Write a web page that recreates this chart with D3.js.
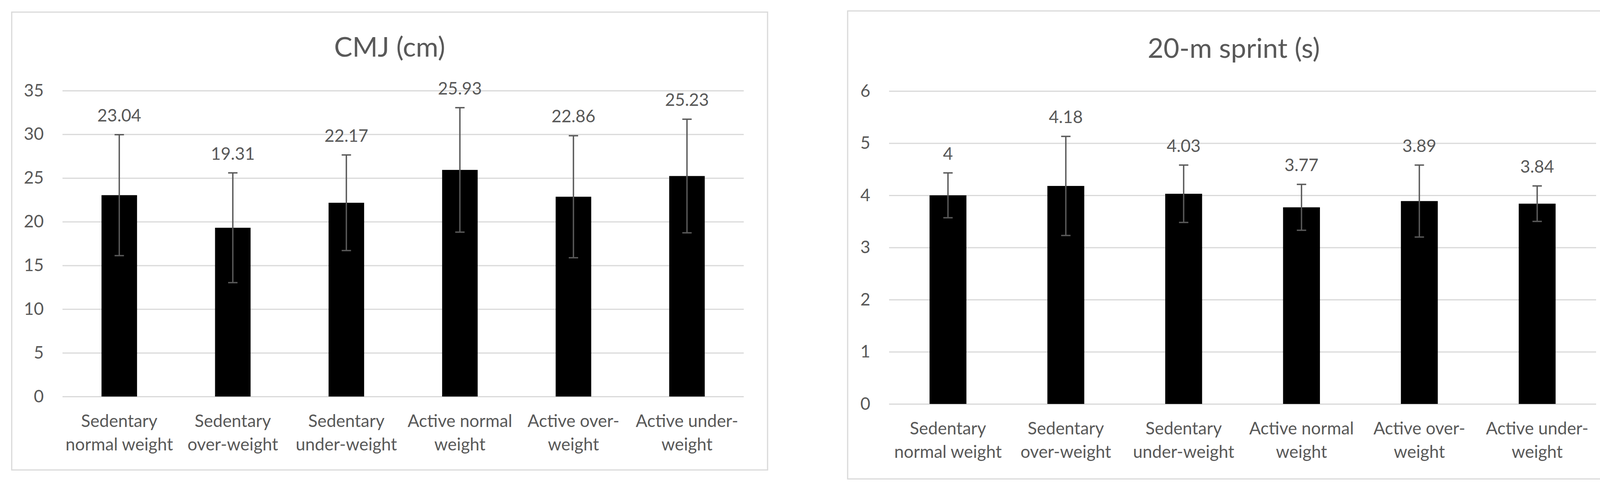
<!DOCTYPE html>
<html>
<head>
<meta charset="utf-8">
<script src="https://cdn.jsdelivr.net/npm/d3@7/dist/d3.min.js"></script>
<style>
body { margin: 0; background: #fff; }
text { font-family: Lato, "Open Sans", sans-serif; fill: #595959; }
</style>
</head>
<body>
<div id="content"></div>
<script>
// categories (x axis) and how Excel wrapped them
var categories = ["Sedentary normal weight", "Sedentary over-weight", "Sedentary under-weight",
                  "Active normal weight", "Active over-weight", "Active under-weight"];
var catLines = [["Sedentary", "normal weight"], ["Sedentary", "over-weight"], ["Sedentary", "under-weight"],
                ["Active normal", "weight"], ["Active over-", "weight"], ["Active under-", "weight"]];

// CMJ (cm)
var cmjMeans = [23.04, 19.31, 22.17, 25.93, 22.86, 25.23];
var cmjSD    = [6.92, 6.28, 5.47, 7.12, 6.98, 6.50];
var cmjTicks = [0, 5, 10, 15, 20, 25, 30, 35];

// 20-m sprint (s)
var sprintMeans = [4, 4.18, 4.03, 3.77, 3.89, 3.84];
var sprintSD    = [0.43, 0.95, 0.55, 0.44, 0.69, 0.34];
var sprintTicks = [0, 1, 2, 3, 4, 5, 6];

var svg = d3.select('#content').append('svg')
            .attr('width', 6357)
            .attr('height', 1262);

svg.append('rect').attr('width', 6357).attr('height', 1262).style('fill', '#fff');

function drawChart(title, means, sds, ticks, frame, plot) {
	var g = svg.append('g');

	//chart border
	g.append('rect')
	 .attr('x', frame.x0).attr('y', frame.y0)
	 .attr('width', frame.x1 - frame.x0).attr('height', frame.y1 - frame.y0)
	 .style('fill', 'none').style('stroke', '#d9d9d9').style('stroke-width', 3);

	g.append('text')
	 .attr('x', (frame.x0 + frame.x1) / 2)
	 .attr('y', frame.titleY)
	 .attr('text-anchor', 'middle')
	 .style('font-size', '70px')
	 .text(title);

	var x = d3.scaleBand().domain(categories).range([plot.x0, plot.x1])
	          .paddingInner(0.687).paddingOuter(0.3435);
	var y = d3.scaleLinear().domain([0, ticks[ticks.length - 1]]).range([plot.y0, plot.y1]);

	//gridlines + y labels
	var yAxis = g.append('g')
	             .attr('transform', 'translate(' + plot.x0 + ',0)')
	             .call(d3.axisLeft(y).tickValues(ticks).tickFormat(d3.format('d'))
	                     .tickSize(-(plot.x1 - plot.x0)).tickPadding(48));
	yAxis.select('.domain').remove();
	yAxis.selectAll('line').attr('stroke', '#d9d9d9').attr('stroke-width', 3);
	yAxis.selectAll('text').style('font-size', '44px');

	//bars
	g.selectAll('rect.bar').data(means).enter().append('rect')
	 .attr('class', 'bar')
	 .attr('x', function(d, i){ return x(categories[i]); })
	 .attr('width', x.bandwidth())
	 .attr('y', function(d){ return y(d); })
	 .attr('height', function(d){ return y(0) - y(d); })
	 .style('fill', '#000');

	//error bars
	var cap = 12;
	var eb = g.selectAll('g.err').data(means).enter().append('g').attr('class', 'err')
	          .style('stroke', '#595959').style('stroke-width', 3.5);
	eb.append('line')
	  .attr('x1', function(d, i){ return x(categories[i]) + x.bandwidth() / 2; })
	  .attr('x2', function(d, i){ return x(categories[i]) + x.bandwidth() / 2; })
	  .attr('y1', function(d, i){ return y(d + sds[i]); })
	  .attr('y2', function(d, i){ return y(d - sds[i]); });
	[1, -1].forEach(function(s){
		eb.append('line')
		  .attr('x1', function(d, i){ return x(categories[i]) + x.bandwidth() / 2 - cap; })
		  .attr('x2', function(d, i){ return x(categories[i]) + x.bandwidth() / 2 + cap; })
		  .attr('y1', function(d, i){ return y(d + s * sds[i]); })
		  .attr('y2', function(d, i){ return y(d + s * sds[i]); });
	});

	//data labels above the error bars
	g.selectAll('text.lbl').data(means).enter().append('text')
	 .attr('class', 'lbl')
	 .attr('x', function(d, i){ return x(categories[i]) + x.bandwidth() / 2; })
	 .attr('y', function(d, i){ return y(d + sds[i]) - 34; })
	 .attr('text-anchor', 'middle')
	 .style('font-size', '44px')
	 .text(function(d){ return d; });

	//category labels
	var xAxis = g.append('g')
	             .attr('transform', 'translate(0,' + plot.y0 + ')')
	             .call(d3.axisBottom(x).tickSize(0));
	xAxis.select('.domain').remove();
	xAxis.selectAll('.tick text').each(function(d){
		var t = d3.select(this).text(null).attr('y', 0).attr('dy', null).style('font-size', '44px');
		catLines[categories.indexOf(d)].forEach(function(line, k){
			t.append('tspan').attr('x', 0).attr('y', 78 + k * 60).text(line);
		});
	});
}

drawChart('CMJ (cm)', cmjMeans, cmjSD, cmjTicks,
          {x0: 30, y0: 31, x1: 1965, y1: 1203, titleY: 145},
          {x0: 160, x1: 1904, y0: 1015, y1: 232});

drawChart('20-m sprint (s)', sprintMeans, sprintSD, sprintTicks,
          {x0: 2170, y0: 28, x1: 4147, y1: 1226, titleY: 148},
          {x0: 2276, x1: 4086, y0: 1034, y1: 233});
</script>
</body>
</html>
